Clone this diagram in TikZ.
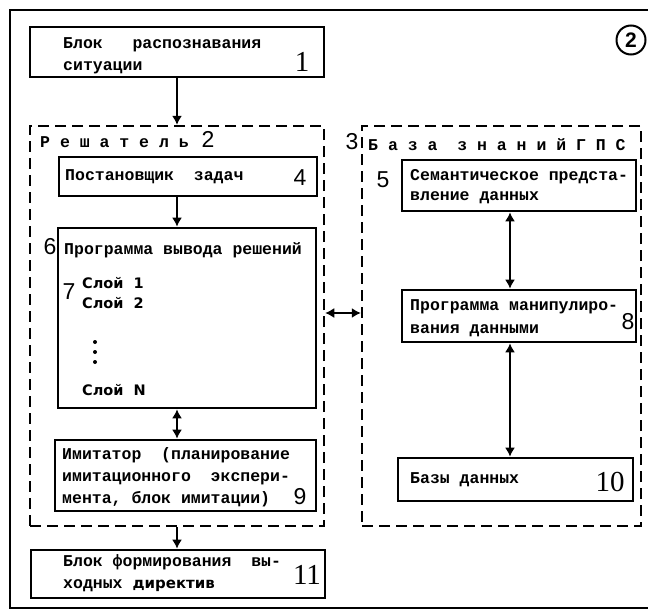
\documentclass[tikz,border=0pt]{standalone}
\usepackage{fontspec}
\setmainfont{Liberation Mono}
\newfontfamily\numfont{Liberation Sans}
\newfontfamily\numserif{Liberation Serif}
\newfontfamily\layerfont{DejaVu Sans}
\usetikzlibrary{arrows.meta}
\tikzstyle{block} = [draw, line width=2.8pt, inner sep=0pt]
\tikzstyle{group} = [draw, line width=2.5pt, dash pattern=on 11pt off 6pt, inner sep=0pt]
\tikzstyle{conn} = [line width=1.4pt, -{Latex[length=9pt,width=10pt]}]
\tikzstyle{biconn} = [line width=1.4pt, {Latex[length=9pt,width=10pt]}-{Latex[length=9pt,width=10pt]}]
\tikzstyle{txt} = [anchor=west, inner sep=0pt, align=left, font=\bfseries\fontsize{16.5}{22}\selectfont]
\tikzstyle{num} = [inner sep=0pt, font=\numfont\fontsize{23}{23}\selectfont]
\tikzstyle{numserif} = [inner sep=0pt, font=\numserif\fontsize{29}{29}\selectfont]
\tikzstyle{layer} = [anchor=west, inner sep=0pt, font=\layerfont\bfseries\fontsize{14.5}{16}\selectfont]
\begin{document}
\begin{tikzpicture}[x=1pt, y=-1pt]
    \useasboundingbox (0,0) rectangle (648,613);
    \draw[line width=2.6pt] (648,10) -- (10,10) -- (10,608) -- (648,608);
    \node[draw, circle, line width=2pt, minimum size=29pt, inner sep=0pt,
          font=\numfont\bfseries\fontsize{21}{21}\selectfont] (mark) at (631,40) {2};

    \node[block, minimum width=294pt, minimum height=50pt] (b1) at (177,52) {};
    \node[txt] (t1) at (63,56) {Блок\ \ \ распознавания\\ситуации};
    \node[numserif] (n1) at (302,62) {1};

    \node[group, minimum width=294pt, minimum height=400pt] (solver) at (177,326) {};
    \node[txt, anchor=west] (solverlbl) at (40,142) {Р е ш а т е л ь};
    \node[num] (n2) at (208,139) {2};

    \node[block, minimum width=258pt, minimum height=39pt] (b4) at (188,176.5) {};
    \node[txt] (t4) at (65,177) {Постановщик\ \ задач};
    \node[num] (n4) at (300,178) {4};

    \node[block, minimum width=258pt, minimum height=180pt] (b6) at (187,318) {};
    \node[txt] (t6) at (64,250) {Программа вывода решений};
    \node[num] (n6) at (50,247) {6};
    \node[num] (n7) at (69,292) {7};
    \node[layer] (l1) at (82,283) {Слой\ \ 1};
    \node[layer] (l2) at (82,303) {Слой\ \ 2};
    \node[layer] (ln) at (82,390) {Слой\ \ N};
    \foreach \y in {342,352,362}
        \fill (95,\y) circle (2pt);

    \node[block, minimum width=261pt, minimum height=71pt] (b9) at (185.5,475.5) {};
    \node[txt] (t9) at (62,477) {Имитатор\ \ (планирование\\имитационного\ \ экспери-\\мента, блок имитации)};
    \node[num] (n9) at (300,497) {9};

    \node[block, minimum width=294pt, minimum height=48pt] (b11) at (178,574) {};
    \node[txt] (t11) at (63,573.5) {Блок формирования\ \ вы-\\ходных {\layerfont\bfseries\fontsize{15}{22}\selectfont директив}};
    \node[numserif] (n11) at (307,575) {11};

    \node[group, minimum width=279pt, minimum height=400pt] (kb) at (501.5,326) {};
    \node[txt] (kblbl) at (368,145) {Б а з а\ \ з н а н и й Г П С};
    \node[num] (n3) at (352,142) {3};

    \node[block, minimum width=234pt, minimum height=51pt] (b5) at (519,185.5) {};
    \node[txt, font=\bfseries\fontsize{16.5}{20}\selectfont] (t5) at (410,187) {Семантическое предста-\\вление данных};
    \node[num] (n5) at (383,180) {5};

    \node[block, minimum width=234pt, minimum height=52pt] (b8) at (519,316) {};
    \node[txt, font=\bfseries\fontsize{16.5}{23}\selectfont] (t8) at (410,318) {Программа манипулиро-\\вания данными};
    \node[num] (n8) at (628,322) {8};

    \node[block, minimum width=235pt, minimum height=43pt] (b10) at (515.5,479.5) {};
    \node[txt] (t10) at (410,480) {Базы данных};
    \node[numserif] (n10) at (610,482) {10};

    \coordinate (leftaxis) at (177,0);
    \coordinate (rightaxis) at (510,0);
    \coordinate (link) at (343,313);

    \draw[conn] (b1.south -| leftaxis) -- (solver.north -| leftaxis);
    \draw[conn] (b4.south -| leftaxis) -- (b6.north -| leftaxis);
    \draw[biconn] (b6.south -| leftaxis) -- (b9.north -| leftaxis);
    \draw[conn] (solver.south -| leftaxis) -- (b11.north -| leftaxis);
    \draw[biconn] (b5.south -| rightaxis) -- (b8.north -| rightaxis);
    \draw[biconn] (b8.south -| rightaxis) -- (b10.north -| rightaxis);
    \draw[biconn] (solver.east |- link) -- (kb.west |- link);
\end{tikzpicture}
\end{document}
